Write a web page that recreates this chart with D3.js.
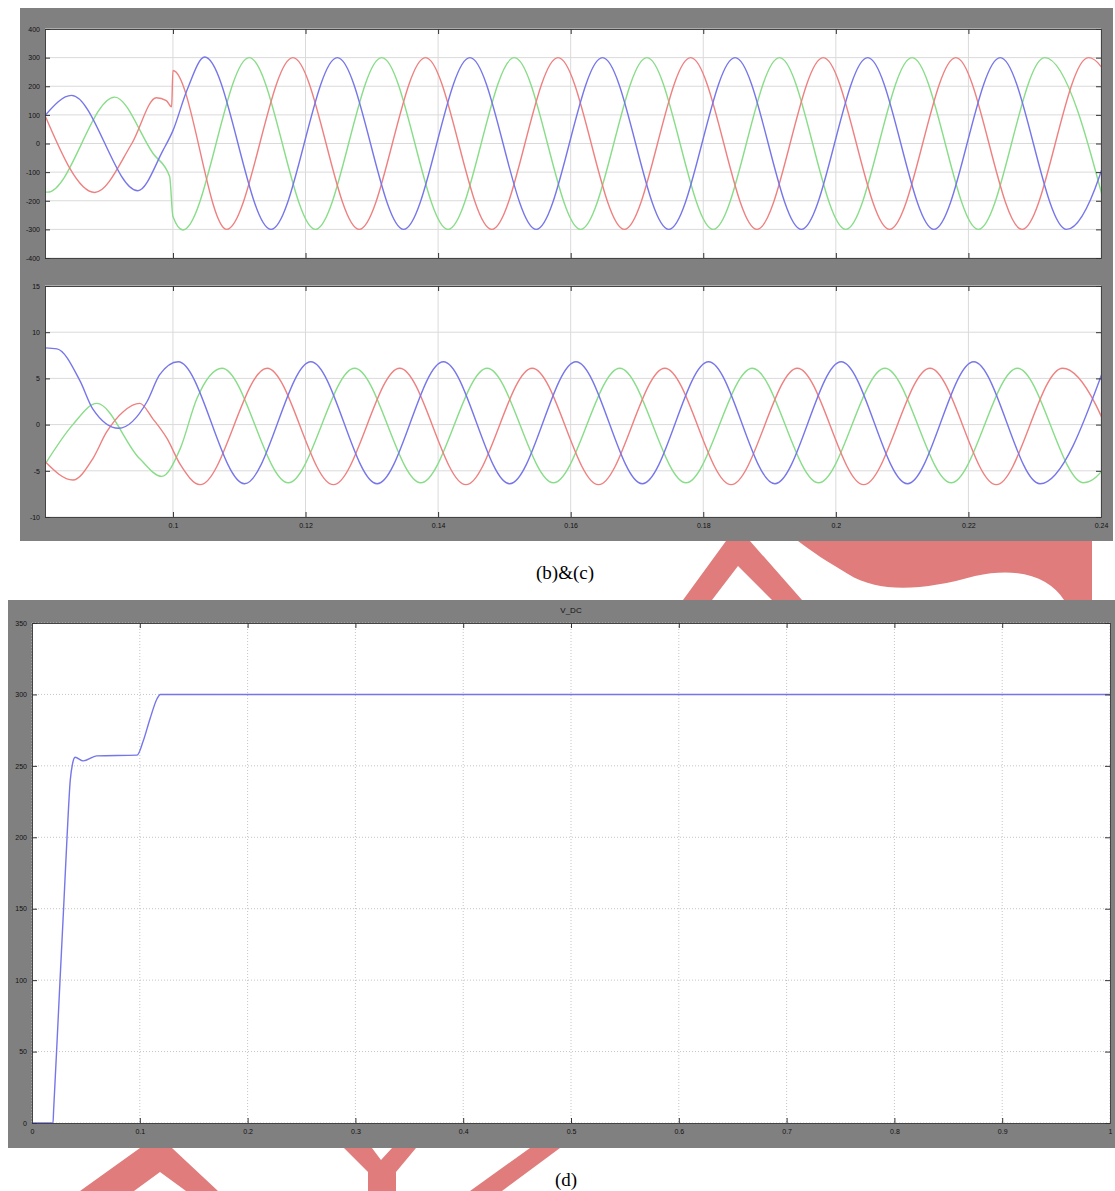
<!DOCTYPE html>
<html>
<head>
<meta charset="utf-8">
<script src="https://cdn.jsdelivr.net/npm/d3@7/dist/d3.min.js"></script>
<style>
body { margin: 0; background: #fff; }
</style>
</head>
<body>
<div id="chart"></div>
<script>
'use strict'
var width = 1115;
var height = 1191;

// (b) phase voltages [time s, volts]
var vRed = [[0.0807, 98], [0.0882, -171], [0.0938, 0], [0.0975, 160], [0.0990, 150], [0.0998, 128], [0.1000, 255],
	[0.1081, -300], [0.1181, 300], [0.1281, -300], [0.1381, 300], [0.1481, -300], [0.1581, 300], [0.1681, -300],
	[0.1781, 300], [0.1881, -300], [0.1981, 300], [0.2081, -300], [0.2181, 300], [0.2281, -300], [0.2381, 300], [0.2481, -300]];
var vGreen = [[0.0807, -169], [0.0811, -170], [0.0912, 162], [0.0970, -35], [0.0995, -115], [0.1000, -255], [0.1015, -302],
	[0.1115, 300], [0.1215, -300], [0.1315, 300], [0.1415, -300], [0.1515, 300], [0.1615, -300], [0.1715, 300],
	[0.1815, -300], [0.1915, 300], [0.2015, -300], [0.2115, 300], [0.2215, -300], [0.2315, 300], [0.2415, -300]];
var vBlue = [[0.0807, 98], [0.0847, 168], [0.0947, -165], [0.0985, -24], [0.1000, 45], [0.1021, 185], [0.1048, 302],
	[0.1148, -300], [0.1248, 300], [0.1348, -300], [0.1448, 300], [0.1548, -300], [0.1648, 300], [0.1748, -300],
	[0.1848, 300], [0.1948, -300], [0.2048, 300], [0.2148, -300], [0.2248, 300], [0.2348, -300], [0.2448, 300]];

// (c) phase currents [time s, amps]
var iRed = [[0.0807, -4.0], [0.0849, -6.0], [0.0879, -3.7], [0.0900, -0.8], [0.0925, 1.4], [0.0950, 2.3], [0.0970, 0.6],
	[0.0991, -1.5], [0.1011, -4.3], [0.1041, -6.5], [0.1142, 6.1], [0.1242, -6.5], [0.1342, 6.1], [0.1442, -6.5],
	[0.1542, 6.1], [0.1642, -6.5], [0.1742, 6.1], [0.1842, -6.5], [0.1942, 6.1], [0.2042, -6.5], [0.2142, 6.1],
	[0.2242, -6.5], [0.2342, 6.1], [0.2442, -6.5]];
var iGreen = [[0.0807, -4.3], [0.0849, 0], [0.0885, 2.3], [0.0950, -3.7], [0.0983, -5.6], [0.1011, -2.6], [0.1036, 2.8],
	[0.1074, 6.1], [0.1174, -6.3], [0.1274, 6.1], [0.1374, -6.3], [0.1474, 6.1], [0.1574, -6.3], [0.1674, 6.1],
	[0.1774, -6.3], [0.1874, 6.1], [0.1974, -6.3], [0.2074, 6.1], [0.2174, -6.3], [0.2274, 6.1], [0.2374, -6.3], [0.2474, 6.1]];
var iBlue = [[0.0807, 8.3], [0.0825, 8.2], [0.0860, 4.7], [0.0879, 1.7], [0.0918, -0.4], [0.0961, 2.5], [0.0980, 5.4],
	[0.1008, 6.8], [0.1108, -6.4], [0.1208, 6.8], [0.1308, -6.4], [0.1408, 6.8], [0.1508, -6.4], [0.1608, 6.8],
	[0.1708, -6.4], [0.1808, 6.8], [0.1908, -6.4], [0.2008, 6.8], [0.2108, -6.4], [0.2208, 6.8], [0.2308, -6.4], [0.2408, 6.8]];

// (d) DC link voltage
var vdc = [[0, 0], [0.0195, 0], [0.0200, 8], [0.0228, 50], [0.0260, 100], [0.0293, 150], [0.0325, 200], [0.0355, 240],
	[0.0375, 251], [0.0400, 256], [0.0475, 253.5], [0.0600, 257], [0.0975, 257.5], [0.1030, 267], [0.1095, 283],
	[0.1160, 297], [0.1190, 300], [1, 300]];

var acTicks = [0.1, 0.12, 0.14, 0.16, 0.18, 0.2, 0.22, 0.24];
var vTicks = [-400, -300, -200, -100, 0, 100, 200, 300, 400];
var iTicks = [-10, -5, 0, 5, 10, 15];
var dcXTicks = [0, 0.1, 0.2, 0.3, 0.4, 0.5, 0.6, 0.7, 0.8, 0.9, 1];
var dcYTicks = [0, 50, 100, 150, 200, 250, 300, 350];

var RED = '#ef8080', GREEN = '#88dd88', BLUE = '#7676ea';

var svg = d3.select('#chart')
	.append('svg')
	.attr('width', width)
	.attr('height', height);

// pink watermark strokes showing between and below the figures
var wm = svg.append('g').style('fill', '#e07c7c').style('fill-rule', 'evenodd');
wm.append('path').attr('d', 'M683,600 L726,541 L750,541 L802,600 Z M712,600 L738,566 L772,600 Z');
wm.append('path').attr('d', 'M798,541 L1092,541 L1092,600 L1064,600 C1050,578 1020,566 975,576 C925,590 880,594 848,574 C828,562 812,552 798,541 Z');
wm.append('path').attr('d', 'M80,1191 L140,1148 L172,1148 L218,1191 Z M134,1191 L160,1172 L186,1191 Z');
wm.append('path').attr('d', 'M344,1148 L372,1148 L381,1160 L392,1148 L416,1148 L396,1172 L396,1191 L368,1191 L368,1172 Z');
wm.append('path').attr('d', 'M530,1148 L560,1148 L502,1191 L470,1191 Z');

// gray scope windows
svg.append('rect').attr('x', 20).attr('y', 8).attr('width', 1093).attr('height', 533).attr('fill', '#808080');
svg.append('rect').attr('x', 8).attr('y', 600).attr('width', 1107).attr('height', 548).attr('fill', '#808080');

var clipId = 0;
function scopePanel(p){
	var x = d3.scaleLinear().domain(p.xDomain).range([p.left, p.right]);
	var y = d3.scaleLinear().domain(p.yDomain).range([p.bottom, p.top]);
	var g = svg.append('g');

	g.append('rect')
		.attr('x', p.left).attr('y', p.top)
		.attr('width', p.right - p.left).attr('height', p.bottom - p.top)
		.attr('fill', '#fff');

	// grid
	g.append('g').selectAll('line').data(p.xTicks).enter().append('line')
		.attr('x1', function(d){ return x(d); }).attr('x2', function(d){ return x(d); })
		.attr('y1', p.top).attr('y2', p.bottom)
		.style('stroke', p.gridColor).style('stroke-dasharray', p.gridDash);
	g.append('g').selectAll('line').data(p.yTicks).enter().append('line')
		.attr('x1', p.left).attr('x2', p.right)
		.attr('y1', function(d){ return y(d); }).attr('y2', function(d){ return y(d); })
		.style('stroke', p.gridColor).style('stroke-dasharray', p.gridDash);

	// traces
	var id = 'clip' + (clipId++);
	g.append('clipPath').attr('id', id).append('rect')
		.attr('x', p.left).attr('y', p.top)
		.attr('width', p.right - p.left).attr('height', p.bottom - p.top);
	var line = d3.line()
		.x(function(d){ return x(d[0]); })
		.y(function(d){ return y(d[1]); })
		.curve(d3.curveMonotoneX);
	g.append('g').attr('clip-path', 'url(#' + id + ')')
		.selectAll('path').data(p.series).enter().append('path')
		.attr('d', function(d){ return line(d.values); })
		.attr('fill', 'none')
		.style('stroke', function(d){ return d.color; })
		.style('stroke-width', '1.4px');

	// axes, ticks pointing inward
	var fmt = function(d){ return String(+d.toFixed(3)); };
	var bottomAxis = d3.axisBottom(x).tickValues(p.xTicks).tickSize(-5).tickPadding(6)
		.tickFormat(p.xLabels ? fmt : '');
	var topAxis = d3.axisTop(x).tickValues(p.xTicks).tickSize(-5).tickFormat('');
	var leftAxis = d3.axisLeft(y).tickValues(p.yTicks).tickSize(-5).tickPadding(5).tickFormat(fmt);
	var rightAxis = d3.axisRight(y).tickValues(p.yTicks).tickSize(-5).tickFormat('');

	[[bottomAxis, 0, p.bottom], [topAxis, 0, p.top], [leftAxis, p.left, 0], [rightAxis, p.right, 0]].forEach(function(a){
		var ax = g.append('g').attr('transform', 'translate(' + a[1] + ',' + a[2] + ')').call(a[0]);
		ax.select('.domain').style('stroke', '#444');
		ax.selectAll('.tick line').style('stroke', '#333');
		ax.selectAll('text')
			.style('font-family', 'Liberation Sans, Arial, sans-serif')
			.style('font-size', '7px')
			.style('fill', '#111');
	});

	if(p.title){
		g.append('text')
			.attr('x', (p.left + p.right) / 2).attr('y', p.top - 10)
			.attr('text-anchor', 'middle')
			.style('font-family', 'Liberation Sans, Arial, sans-serif')
			.style('font-size', '8px')
			.style('fill', '#111')
			.text(p.title);
	}
}

scopePanel({
	left: 45, right: 1101, top: 29, bottom: 258,
	xDomain: [0.0807, 0.24], yDomain: [-400, 400],
	xTicks: acTicks, yTicks: vTicks, xLabels: false,
	gridColor: '#dadada', gridDash: null,
	series: [{color: GREEN, values: vGreen}, {color: RED, values: vRed}, {color: BLUE, values: vBlue}]
});

scopePanel({
	left: 45, right: 1101, top: 286, bottom: 517,
	xDomain: [0.0807, 0.24], yDomain: [-10, 15],
	xTicks: acTicks, yTicks: iTicks, xLabels: true,
	gridColor: '#dadada', gridDash: null,
	series: [{color: GREEN, values: iGreen}, {color: RED, values: iRed}, {color: BLUE, values: iBlue}]
});

scopePanel({
	left: 32, right: 1110, top: 623, bottom: 1123,
	xDomain: [0, 1], yDomain: [0, 350],
	xTicks: dcXTicks, yTicks: dcYTicks, xLabels: true,
	gridColor: '#c4c4c4', gridDash: '1,2',
	title: 'V_DC',
	series: [{color: BLUE, values: vdc}]
});

// figure captions
svg.append('text').attr('x', 565).attr('y', 579).attr('text-anchor', 'middle')
	.style('font-family', 'Liberation Serif, Times New Roman, serif').style('font-size', '19px')
	.text('(b)&(c)');
svg.append('text').attr('x', 566).attr('y', 1186).attr('text-anchor', 'middle')
	.style('font-family', 'Liberation Serif, Times New Roman, serif').style('font-size', '19px')
	.text('(d)');
</script>
</body>
</html>
